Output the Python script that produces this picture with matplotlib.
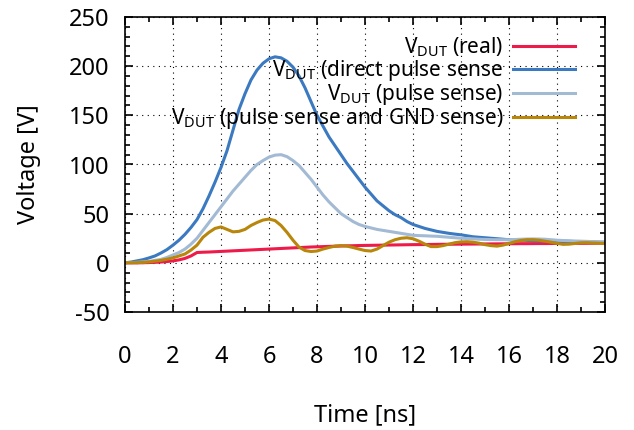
import matplotlib
matplotlib.use("Agg")
import matplotlib.pyplot as plt
from matplotlib.ticker import MultipleLocator

plt.rcParams['font.family'] = ['Noto Sans', 'DejaVu Sans']
plt.rcParams['mathtext.fontset'] = 'custom'
plt.rcParams['mathtext.rm'] = 'Noto Sans'
plt.rcParams['axes.unicode_minus'] = False

# time axis in ns, one sample every 0.25 ns
t = [0, 0.25, 0.5, 0.75, 1, 1.25, 1.5, 1.75, 2, 2.25, 2.5, 2.75, 3, 3.25, 3.5, 3.75,
     4, 4.25, 4.5, 4.75, 5, 5.25, 5.5, 5.75, 6, 6.25, 6.5, 6.75, 7, 7.25, 7.5, 7.75,
     8, 8.25, 8.5, 8.75, 9, 9.25, 9.5, 9.75, 10, 10.25, 10.5, 10.75, 11, 11.25, 11.5, 11.75,
     12, 12.25, 12.5, 12.75, 13, 13.25, 13.5, 13.75, 14, 14.25, 14.5, 14.75, 15, 15.25, 15.5, 15.75,
     16, 16.25, 16.5, 16.75, 17, 17.25, 17.5, 17.75, 18, 18.25, 18.5, 18.75, 19, 19.25, 19.5, 19.75,
     20]

v_real = [0, 0, 0, 0.1, 0.3, 0.5, 0.8, 1.3, 2, 3, 4.5, 7, 10.5, 10.8, 11, 11.3,
          11.6, 11.9, 12.2, 12.5, 12.8, 13.1, 13.4, 13.7, 14, 14.3, 14.6, 14.9, 15.2, 15.5, 15.8, 16.1,
          16.3, 16.5, 16.7, 16.9, 17.1, 17.3, 17.4, 17.6, 17.7, 17.8, 17.9, 18, 18.1, 18.2, 18.3, 18.4,
          18.5, 18.55, 18.6, 18.7, 18.8, 18.85, 18.9, 18.95, 19, 19.05, 19.1, 19.15, 19.2, 19.25, 19.3, 19.35,
          19.4, 19.45, 19.5, 19.5, 19.55, 19.6, 19.6, 19.65, 19.7, 19.7, 19.75, 19.8, 19.8, 19.85, 19.9, 19.95,
          20]

v_direct = [0, 0.8, 2, 3.2, 5, 7, 10, 13.5, 18, 23, 29, 36, 44, 55, 68, 82,
            97, 114, 135, 156, 172, 186, 196, 203, 207.5, 209.5, 208.5, 205, 199, 190, 178, 164,
            150, 139, 128, 119, 110, 101, 93, 85, 77, 70, 63, 58, 53, 49, 46, 42,
            39, 37, 35, 33.5, 32, 31, 30, 29.2, 28.5, 27.5, 26.5, 26, 25.5, 25, 24.5, 24,
            23.5, 23.2, 23, 22.8, 22.5, 22.3, 22.2, 22.1, 22, 21.9, 21.8, 21.6, 21.5, 21.4, 21.3, 21.1,
            21]

v_pulse = [0, 0.2, 0.5, 1, 1.5, 2.5, 3.5, 5.5, 8, 10.5, 14, 19, 25, 33, 41, 49,
           57, 65, 73, 80, 87, 94, 100, 104, 107.5, 109.5, 110, 108, 104, 99, 92, 85,
           77, 69, 62, 56, 50, 46, 42, 39, 37, 35.5, 34, 33, 32, 31, 30, 29,
           28, 27.7, 27.5, 27.2, 27, 26.5, 26, 25.5, 25, 24.7, 24.4, 24, 23.8, 23.6, 23.5, 23.5,
           23.5, 23.7, 24, 24.2, 24.3, 24.2, 24, 23.5, 23, 22.7, 22.5, 22.2, 22, 21.8, 21.5, 21.2,
           21]

v_gnd = [0, 0.1, 0.2, 0.5, 1, 1.7, 2.5, 3.7, 5, 7, 9, 13, 18, 26, 31, 35,
         36.5, 34, 31.5, 32, 34, 38, 41, 43.5, 44.5, 43, 38, 31, 23, 16, 12.5, 11.5,
         12, 14, 15.6, 17, 17.5, 17, 15.6, 14, 12.5, 12, 14, 17.5, 21, 23.5, 25, 25.5,
         24.5, 22, 19, 16.5, 16.5, 17.5, 19, 20.5, 21.3, 21.5, 21, 20, 18.5, 17.5, 17, 18,
         19.7, 21.5, 22.8, 23.5, 23.5, 23, 22, 21, 19.8, 18.8, 19, 19.7, 20.4, 20.5, 20.2, 20,
         19.8]

labels = [r'V$_{\mathrm{DUT}}$ (real)',
          r'V$_{\mathrm{DUT}}$ (direct pulse sense',
          r'V$_{\mathrm{DUT}}$ (pulse sense)',
          r'V$_{\mathrm{DUT}}$ (pulse sense and GND sense)']
colors = ['#ee1a4a', '#3b79c0', '#a3bad4', '#b8860b']

fig = plt.figure(figsize=(6.34, 4.30), dpi=100)
ax = fig.add_axes([125 / 634, 118 / 430, 480 / 634, 295 / 430])

for y, lab, c in zip([v_real, v_direct, v_pulse, v_gnd], labels, colors):
    ax.plot(t, y, color=c, lw=2.2, label=lab)

ax.set_xlim(0, 20)
ax.set_ylim(-50, 250)
ax.xaxis.set_major_locator(MultipleLocator(2))
ax.xaxis.set_minor_locator(MultipleLocator(1))
ax.yaxis.set_major_locator(MultipleLocator(50))
ax.yaxis.set_minor_locator(MultipleLocator(10))
ax.tick_params(which='both', direction='in', top=True, right=True, labelsize=17, width=1.2)
ax.tick_params(which='major', length=6)
ax.tick_params(which='minor', length=3.5)
ax.tick_params(axis='x', pad=24)
ax.tick_params(axis='y', pad=11)
ax.grid(True, which='major', color='black', ls=(0, (1, 4)), lw=0.8)
for s in ax.spines.values():
    s.set_linewidth(1.2)

ax.set_xlabel('Time [ns]', fontsize=17)
ax.set_ylabel('Voltage [V]', fontsize=17)
ax.xaxis.set_label_coords(0.5, -0.31)
ax.yaxis.set_label_coords(-0.175, 0.5)

ax.legend(loc='upper right', bbox_to_anchor=(0.955, 0.965), frameon=False,
          markerfirst=False, fontsize=15, handlelength=3.0, handletextpad=0.45,
          labelspacing=-0.05, borderaxespad=0)

fig.savefig('out.png', dpi=100)
